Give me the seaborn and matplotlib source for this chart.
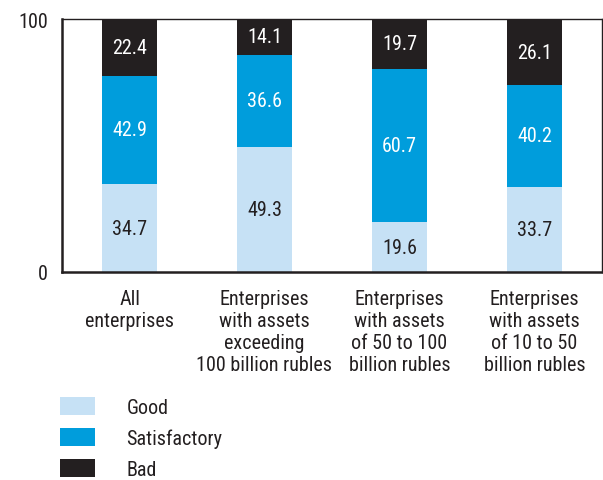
import matplotlib
matplotlib.use("Agg")
import matplotlib.pyplot as plt
import matplotlib.patches as mpatches
import seaborn as sns
import pandas as pd
import numpy as np

categories = [
    "All\nenterprises",
    "Enterprises\nwith assets\nexceeding\n100 billion rubles",
    "Enterprises\nwith assets\nof 50 to 100\nbillion rubles",
    "Enterprises\nwith assets\nof 10 to 50\nbillion rubles",
]
good = [34.7, 49.3, 19.6, 33.7]
satisfactory = [42.9, 36.6, 60.7, 40.2]
bad = [22.4, 14.1, 19.7, 26.1]
series_names = ["Good", "Satisfactory", "Bad"]
colors = ["#c6e1f5", "#009ddc", "#231f20"]
text_colors = ["#231f20", "white", "white"]

sns.set_style("white")
plt.rcParams["font.family"] = ["Liberation Sans Narrow", "Roboto Condensed", "DejaVu Sans"]

FS = 14.5
INK = "#231f20"

df = pd.DataFrame({"category": categories, "Good": good,
                   "Satisfactory": satisfactory, "Bad": bad})

fig = plt.figure(figsize=(6.03, 4.81), dpi=100)
ax = fig.add_axes([62 / 603, 1 - 273 / 481, 540 / 603, 253 / 481])

# cumulative tops for each stacked segment
cum = np.zeros(len(categories))
stacks = []
for name in series_names:
    cum = cum + df[name].to_numpy()
    stacks.append(cum.copy())

# draw tallest cumulative bar first so lower segments sit on top
for name, col, top in reversed(list(zip(series_names, colors, stacks))):
    sns.barplot(x=df["category"], y=top, color=col, width=0.41, ax=ax,
                order=categories, saturation=1, linewidth=0)

prev = np.zeros(len(categories))
for name, tcol, top in zip(series_names, text_colors, stacks):
    for i in range(len(categories)):
        mid = (prev[i] + top[i]) / 2
        ax.text(i, mid, f"{df[name][i]:.1f}", ha="center", va="center",
                color=tcol, fontsize=FS)
    prev = top

ax.set_xlim(-0.5, len(categories) - 0.5)
ax.set_ylim(0, 100)
ax.set_yticks([0, 100])
ax.set_yticklabels(["0", "100"], fontsize=FS, color=INK)
ax.set_xlabel("")
ax.set_ylabel("")
ax.set_xticks(range(len(categories)))
ax.set_xticklabels(categories, fontsize=FS, color=INK, linespacing=1.2)
ax.set_xticks(np.arange(-0.5, len(categories)), minor=True)
ax.tick_params(axis="x", which="major", length=0, pad=12)
ax.tick_params(axis="x", which="minor", length=9, width=1, color=INK, direction="out")
ax.tick_params(axis="y", length=6, width=1, color=INK, direction="out", pad=4)

for side in ["left", "bottom"]:
    ax.spines[side].set_linewidth(1.8)
    ax.spines[side].set_color(INK)
for side in ["top", "right"]:
    ax.spines[side].set_linewidth(1.0)
    ax.spines[side].set_color(INK)
    ax.spines[side].set_visible(True)

handles = [mpatches.Patch(facecolor=c, edgecolor="none", label=n)
           for n, c in zip(series_names, colors)]
leg = fig.legend(handles=handles, loc="upper left",
                 bbox_to_anchor=(52 / 603, 1 - 390 / 481),
                 frameon=False, fontsize=FS, handlelength=1.75, handleheight=1.0,
                 handletextpad=1.55, labelspacing=0.56, borderaxespad=0)
for t in leg.get_texts():
    t.set_color(INK)

fig.savefig("out.png", dpi=100)
